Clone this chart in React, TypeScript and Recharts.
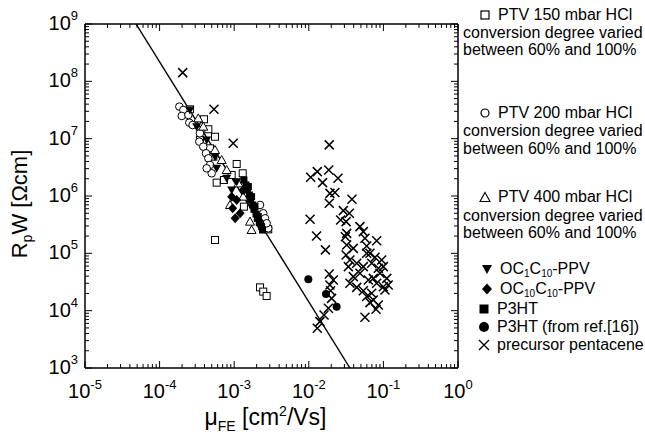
import React from 'react';
import { ScatterChart, Scatter, XAxis, YAxis, ReferenceLine } from 'recharts';

type P = { x: number; y: number };
const pts = (a: number[][]): P[] => a.map(([x, y]) => ({ x, y }));

// PTV 150 mbar HCl (open squares)
const ptv150 = pts([
  [5.53e-4, 1.71e5], [2.22e-3, 2.55e4], [2.45e-3, 2.15e4], [2.72e-3, 1.8e4],
  [2.55e-4, 3.25e7], [3.94e-4, 2.18e7], [4.5e-4, 1.46e7], [5.53e-4, 1.08e7],
  [3.47e-4, 9.48e6], [1.08e-3, 3.62e6], [1.3e-3, 2.49e6], [5.82e-4, 1.71e6],
  [7.29e-4, 1.9e6], [1.35e-3, 6.52e5], [2.86e-3, 2.62e5], [9.25e-4, 2.33e6],
  [5.25e-4, 4.86e6], [4.74e-4, 6.79e6],
]);

// PTV 200 mbar HCl (open circles)
const ptv200 = pts([
  [1.84e-4, 3.62e7], [2.08e-4, 3.16e7], [1.98e-4, 2.49e7], [2.5e-4, 1.9e7],
  [2.77e-4, 1.73e7], [3.41e-4, 8.87e6], [3.85e-4, 7.26e6], [4.19e-4, 5.56e6],
  [4.5e-4, 4.54e6], [4.74e-4, 3.48e6], [4.99e-4, 2.49e6], [3.47e-4, 1.24e7],
  [2.22e-3, 6.97e5], [2.45e-3, 4.99e5], [2.59e-3, 4.08e5], [2.86e-3, 2.73e5],
  [2.72e-3, 3.34e5], [2.43e-4, 2.59e7], [4.28e-4, 3.04e6],
]);

// PTV 400 mbar HCl (open triangles)
const ptv400 = pts([
  [3.3e-4, 2.26e7], [5.53e-4, 6.35e6], [6.79e-4, 4.25e6], [7.93e-4, 2.84e6],
  [8.79e-4, 6.97e5], [1.63e-3, 3.57e5], [1.71e-3, 2.55e5], [1.14e-3, 1.66e6],
  [1.32e-3, 9.75e5], [3.85e-4, 1.62e7],
]);

// OC1C10-PPV (filled down triangles)
const oc1c10 = pts([
  [2.55e-4, 3.16e7], [3.14e-4, 1.62e7], [4.28e-4, 9.48e6], [5.53e-4, 4.86e6],
  [5.82e-4, 3.04e6], [7.93e-4, 2.04e6], [9.25e-4, 1.27e6], [1.08e-3, 1.78e6],
]);

// OC10C10-PPV (filled diamonds)
const oc10c10 = pts([
  [1.03e-3, 4.08e5], [9.53e-4, 6.1e5], [1.08e-3, 8.53e5], [1.2e-3, 4.99e5],
  [9.25e-4, 9.75e5], [1.32e-3, 1.27e6],
]);

// P3HT (filled squares)
const p3ht = pts([
  [1.35e-3, 1.9e6], [1.44e-3, 1.56e6], [1.5e-3, 1.27e6], [1.6e-3, 1.04e6],
  [1.66e-3, 8.53e5], [1.77e-3, 6.97e5], [1.84e-3, 5.86e5], [1.96e-3, 4.85e5],
  [2.04e-3, 4.08e5], [2.17e-3, 3.43e5], [2.33e-3, 2.92e5], [2.4e-3, 2.55e5],
  [1.55e-3, 1.46e6], [1.71e-3, 9.75e5], [1.9e-3, 6.52e5], [2.1e-3, 4.37e5],
  [2.26e-3, 3.25e5],
]);

// P3HT from ref.[16] (filled circles)
const p3htRef = pts([[9.86e-3, 3.52e4], [1.7e-2, 1.95e4], [2.36e-2, 1.17e4]]);

// precursor pentacene (crosses)
const pentacene = pts([
  [2.04e-4, 1.42e8], [5.36e-4, 3.25e7], [9.7e-4, 8.3e6], [1.88e-2, 7.8e6],
  [1.06e-2, 2.12e6], [1.3e-2, 2.66e6], [1.53e-2, 1.71e6], [1.85e-2, 2.84e6],
  [2.46e-2, 2.04e6], [1.92e-2, 1.11e6], [2.24e-2, 1.15e6], [1.88e-2, 7.45e5],
  [3.79e-2, 8.75e5], [2.9e-2, 5.56e5], [3.49e-2, 4.99e5], [2.67e-2, 3.82e5],
  [3.16e-2, 3.57e5], [4.85e-2, 2.92e5], [5.38e-2, 2.39e5], [1.04e-2, 3.92e5],
  [1.27e-2, 2.01e5], [1.67e-2, 1.15e5], [3.09e-2, 1.95e5], [3.22e-2, 1.4e5],
  [3.16e-2, 9.35e4], [3.95e-2, 1.22e5], [5.66e-2, 1.83e5], [5.97e-2, 1.34e5],
  [8.13e-2, 1.66e5], [6.61e-2, 1.0e5], [7.71e-2, 8.53e4], [6.97e-2, 6.7e4],
  [9.48e-2, 7.66e4], [9.98e-2, 5.86e4], [9.0e-2, 4.49e4], [0.111, 3.66e4],
  [0.116, 2.81e4], [0.105, 2.3e4], [8.13e-2, 3.0e4], [6.28e-2, 3.43e4],
  [5.38e-2, 5.86e4], [4.39e-2, 6.7e4], [3.56e-2, 7.66e4], [3.39e-2, 5.86e4],
  [3.95e-2, 3.92e4], [3.56e-2, 3.0e4], [4.39e-2, 2.55e4], [5.38e-2, 2.23e4],
  [5.97e-2, 1.76e4], [7.33e-2, 1.53e4], [8.55e-2, 1.26e4], [7.96e-2, 1.06e4],
  [6.61e-2, 1.38e4], [1.88e-2, 4.37e4], [1.92e-2, 2.81e4], [1.96e-2, 2.23e4],
  [2.02e-2, 1.64e4], [1.83e-2, 1.1e4], [1.6e-2, 8.41e3], [1.41e-2, 6.44e3],
  [1.3e-2, 4.92e3], [5.66e-2, 7.65e3], [8.55e-2, 5.48e4], [7.33e-2, 3.66e4],
  [4.85e-2, 4.49e4], [3.22e-2, 2.23e5], [5.97e-2, 1.0e5], [9.98e-2, 2.62e4],
  [6.97e-2, 2.01e4], [2.13e-2, 3.43e4],
]);

// fitted line endpoints
const fitLine = pts([[4.83e-5, 1e9], [3.56e-2, 1e3]]);

const xMajor = [1e-5, 1e-4, 1e-3, 1e-2, 1e-1, 1];
const yMajor = [1e3, 1e4, 1e5, 1e6, 1e7, 1e8, 1e9];
const withMinor = (maj: number[]) => {
  const out: number[] = [];
  maj.forEach((m, i) => {
    out.push(m);
    if (i < maj.length - 1) for (let k = 2; k <= 9; k++) out.push(m * k);
  });
  return out;
};
const xTicks = withMinor(xMajor);
const yTicks = withMinor(yMajor);

// layout
const W = 645;
const H = 434;
const PLOT = { left: 85, top: 24, right: 458, bottom: 368 };
const PW = PLOT.right - PLOT.left;
const PH = PLOT.bottom - PLOT.top;
const YAXIS_W = 60;
const XAXIS_H = 40;

const FONT = '"Liberation Sans", Arial, Helvetica, sans-serif';
const isMajor = (v: number) => Math.abs(Math.log10(v) - Math.round(Math.log10(v))) < 1e-6;
const expOf = (v: number) => Math.round(Math.log10(v));

const BottomTick = (p: any) => {
  const v = p.payload.value;
  const major = isMajor(v);
  const len = major ? 7 : 4;
  return (
    <g>
      <line x1={p.x} x2={p.x} y1={p.y} y2={p.y - len} stroke="#000" strokeWidth={1} />
      <line x1={p.x} x2={p.x} y1={p.y - PH} y2={p.y - PH + len} stroke="#000" strokeWidth={1} />
      {major && (
        <text x={p.x} y={p.y + 30} textAnchor="middle" fontFamily={FONT} fill="#000">
          <tspan fontSize={20}>10</tspan>
          <tspan fontSize={13} dy={-9}>{expOf(v)}</tspan>
        </text>
      )}
    </g>
  );
};
const LeftTick = (p: any) => {
  const v = p.payload.value;
  const major = isMajor(v);
  const len = major ? 7 : 4;
  return (
    <g>
      <line x1={p.x} x2={p.x + len} y1={p.y} y2={p.y} stroke="#000" strokeWidth={1} />
      <line x1={p.x + PW} x2={p.x + PW - len} y1={p.y} y2={p.y} stroke="#000" strokeWidth={1} />
      {major && (
        <text x={p.x - 7} y={p.y + 6} textAnchor="end" fontFamily={FONT} fill="#000">
          <tspan fontSize={20}>10</tspan>
          <tspan fontSize={13} dy={-10}>{expOf(v)}</tspan>
        </text>
      )}
    </g>
  );
};

const XTitle = (p: any) => {
  const vb = p.viewBox || { x: PLOT.left, y: PLOT.bottom, width: PW };
  const cx = vb.x + vb.width / 2 - 6;
  return (
    <text x={cx} y={425} textAnchor="middle" fontFamily={FONT} fill="#000">
      <tspan fontSize={23}>μ</tspan>
      <tspan fontSize={14} dy={6}>FE</tspan>
      <tspan fontSize={23} dy={-6}> [cm</tspan>
      <tspan fontSize={14} dy={-9}>2</tspan>
      <tspan fontSize={23} dy={9}>/Vs]</tspan>
    </text>
  );
};
const YTitle = (p: any) => {
  const vb = p.viewBox || { x: 25, y: PLOT.top, height: PH };
  const cy = vb.y + vb.height / 2 + 8;
  const bx = 27;
  return (
    <text x={bx} y={cy} transform={`rotate(-90, ${bx}, ${cy})`} textAnchor="middle" fontFamily={FONT} fill="#000">
      <tspan fontSize={22}>R</tspan>
      <tspan fontSize={14} dy={5}>p</tspan>
      <tspan fontSize={22} dy={-5}>W [Ωcm]</tspan>
    </text>
  );
};

const OpenSquare = (p: any) => (
  <rect x={p.cx - 3.5} y={p.cy - 3.5} width={7} height={7} fill="#fff" stroke="#000" strokeWidth={1} />
);
const OpenCircle = (p: any) => <circle cx={p.cx} cy={p.cy} r={3.8} fill="#fff" stroke="#000" strokeWidth={1} />;
const OpenTri = (p: any) => (
  <path d={`M${p.cx},${p.cy - 4.5}L${p.cx + 4.5},${p.cy + 3.5}L${p.cx - 4.5},${p.cy + 3.5}Z`} fill="#fff" stroke="#000" strokeWidth={1} />
);
const DownTri = (p: any) => (
  <path d={`M${p.cx - 4.5},${p.cy - 3.5}L${p.cx + 4.5},${p.cy - 3.5}L${p.cx},${p.cy + 4.5}Z`} fill="#000" />
);
const Diamond = (p: any) => (
  <path d={`M${p.cx},${p.cy - 5}L${p.cx + 4.5},${p.cy}L${p.cx},${p.cy + 5}L${p.cx - 4.5},${p.cy}Z`} fill="#000" />
);
const FilledSquare = (p: any) => <rect x={p.cx - 3.5} y={p.cy - 3.5} width={7} height={7} fill="#000" />;
const FilledCircle = (p: any) => <circle cx={p.cx} cy={p.cy} r={4} fill="#000" />;
const Cross = (p: any) => (
  <path
    d={`M${p.cx - 4.5},${p.cy - 4.5}L${p.cx + 4.5},${p.cy + 4.5}M${p.cx + 4.5},${p.cy - 4.5}L${p.cx - 4.5},${p.cy + 4.5}`}
    stroke="#000"
    strokeWidth={1.5}
    fill="none"
  />
);
const Nothing = () => <g />;

const Sym = ({ kind }: { kind: string }) => {
  const c = 6;
  let el: React.ReactNode = null;
  if (kind === 'sq') el = <rect x={2} y={2} width={8} height={8} fill="#fff" stroke="#000" strokeWidth={1.2} />;
  if (kind === 'ci') el = <circle cx={c} cy={c} r={4} fill="#fff" stroke="#000" strokeWidth={1.2} />;
  if (kind === 'tr') el = <path d="M6,1.5L11,10.5L1,10.5Z" fill="#fff" stroke="#000" strokeWidth={1.1} />;
  if (kind === 'dt') el = <path d="M1,2L11,2L6,11Z" fill="#000" />;
  if (kind === 'di') el = <path d="M6,0.5L11,6L6,11.5L1,6Z" fill="#000" />;
  if (kind === 'fs') el = <rect x={1.5} y={1.5} width={9} height={9} fill="#000" />;
  if (kind === 'fc') el = <circle cx={c} cy={c} r={5} fill="#000" />;
  if (kind === 'x') el = <path d="M1,1L11,11M11,1L1,11" stroke="#000" strokeWidth={1.4} />;
  return (
    <svg width={12} height={12} style={{ position: 'absolute', left: -19, top: 3 }}>
      {el}
    </svg>
  );
};

const Row = ({ top, left, sym, children }: any) => (
  <div style={{ position: 'absolute', top, left, whiteSpace: 'nowrap', lineHeight: '18px', height: 18 }}>
    {sym && <Sym kind={sym} />}
    {children}
  </div>
);

const Sub = ({ children }: any) => (
  <span style={{ fontSize: 10, position: 'relative', top: 3, lineHeight: '10px' }}>{children}</span>
);

const legendStyle: React.CSSProperties = {
  position: 'absolute',
  left: 0,
  top: 0,
  width: W,
  height: H,
  fontFamily: FONT,
  fontSize: 16,
  color: '#000',
  pointerEvents: 'none',
};

const LegendBox = () => (
  <div style={legendStyle}>
    <Row top={6} left={498} sym="sq">PTV 150 mbar HCl</Row>
    <Row top={24} left={463}>conversion degree varied</Row>
    <Row top={41} left={463}>between 60% and 100%</Row>
    <Row top={104} left={498} sym="ci">PTV 200 mbar HCl</Row>
    <Row top={122} left={463}>conversion degree varied</Row>
    <Row top={140} left={463}>between 60% and 100%</Row>
    <Row top={188} left={498} sym="tr">PTV 400 mbar HCl</Row>
    <Row top={207} left={463}>conversion degree varied</Row>
    <Row top={224} left={463}>between 60% and 100%</Row>
    <Row top={260} left={500} sym="dt">
      OC<Sub>1</Sub>C<Sub>10</Sub>-PPV
    </Row>
    <Row top={280} left={500} sym="di">
      OC<Sub>10</Sub>C<Sub>10</Sub>-PPV
    </Row>
    <Row top={300} left={497} sym="fs">P3HT</Row>
    <Row top={318} left={497} sym="fc">P3HT (from ref.[16])</Row>
    <Row top={336} left={497} sym="x">precursor pentacene</Row>
  </div>
);

export default function App() {
  return (
    <div style={{ position: 'absolute', left: 0, top: 0, width: W, height: H, background: '#fff' }}>
      <ScatterChart
        width={W}
        height={H}
        margin={{
          top: PLOT.top,
          right: W - PLOT.right,
          bottom: H - PLOT.bottom - XAXIS_H,
          left: PLOT.left - YAXIS_W,
        }}
      >
        <XAxis
          dataKey="x"
          type="number"
          scale="log"
          domain={[1e-5, 1]}
          allowDataOverflow
          ticks={xTicks}
          interval={0}
          tickSize={0}
          tickMargin={0}
          tickLine={false}
          tick={<BottomTick />}
          axisLine={{ stroke: '#000', strokeWidth: 1.5 }}
          height={XAXIS_H}
          label={<XTitle />}
        />
        <YAxis
          dataKey="y"
          type="number"
          scale="log"
          domain={[1e3, 1e9]}
          allowDataOverflow
          ticks={yTicks}
          interval={0}
          tickSize={0}
          tickMargin={0}
          tickLine={false}
          tick={<LeftTick />}
          axisLine={{ stroke: '#000', strokeWidth: 1.5 }}
          width={YAXIS_W}
          label={<YTitle />}
        />
        <ReferenceLine y={1e9} stroke="#000" strokeWidth={1.5} />
        <ReferenceLine x={1} stroke="#000" strokeWidth={1.5} />
        <Scatter data={fitLine} line={{ stroke: '#000', strokeWidth: 1.4 }} shape={<Nothing />} isAnimationActive={false} />
        <Scatter data={ptv150} shape={<OpenSquare />} isAnimationActive={false} />
        <Scatter data={ptv200} shape={<OpenCircle />} isAnimationActive={false} />
        <Scatter data={ptv400} shape={<OpenTri />} isAnimationActive={false} />
        <Scatter data={oc1c10} shape={<DownTri />} isAnimationActive={false} />
        <Scatter data={oc10c10} shape={<Diamond />} isAnimationActive={false} />
        <Scatter data={p3ht} shape={<FilledSquare />} isAnimationActive={false} />
        <Scatter data={p3htRef} shape={<FilledCircle />} isAnimationActive={false} />
        <Scatter data={pentacene} shape={<Cross />} isAnimationActive={false} />
      </ScatterChart>
      <LegendBox />
    </div>
  );
}
